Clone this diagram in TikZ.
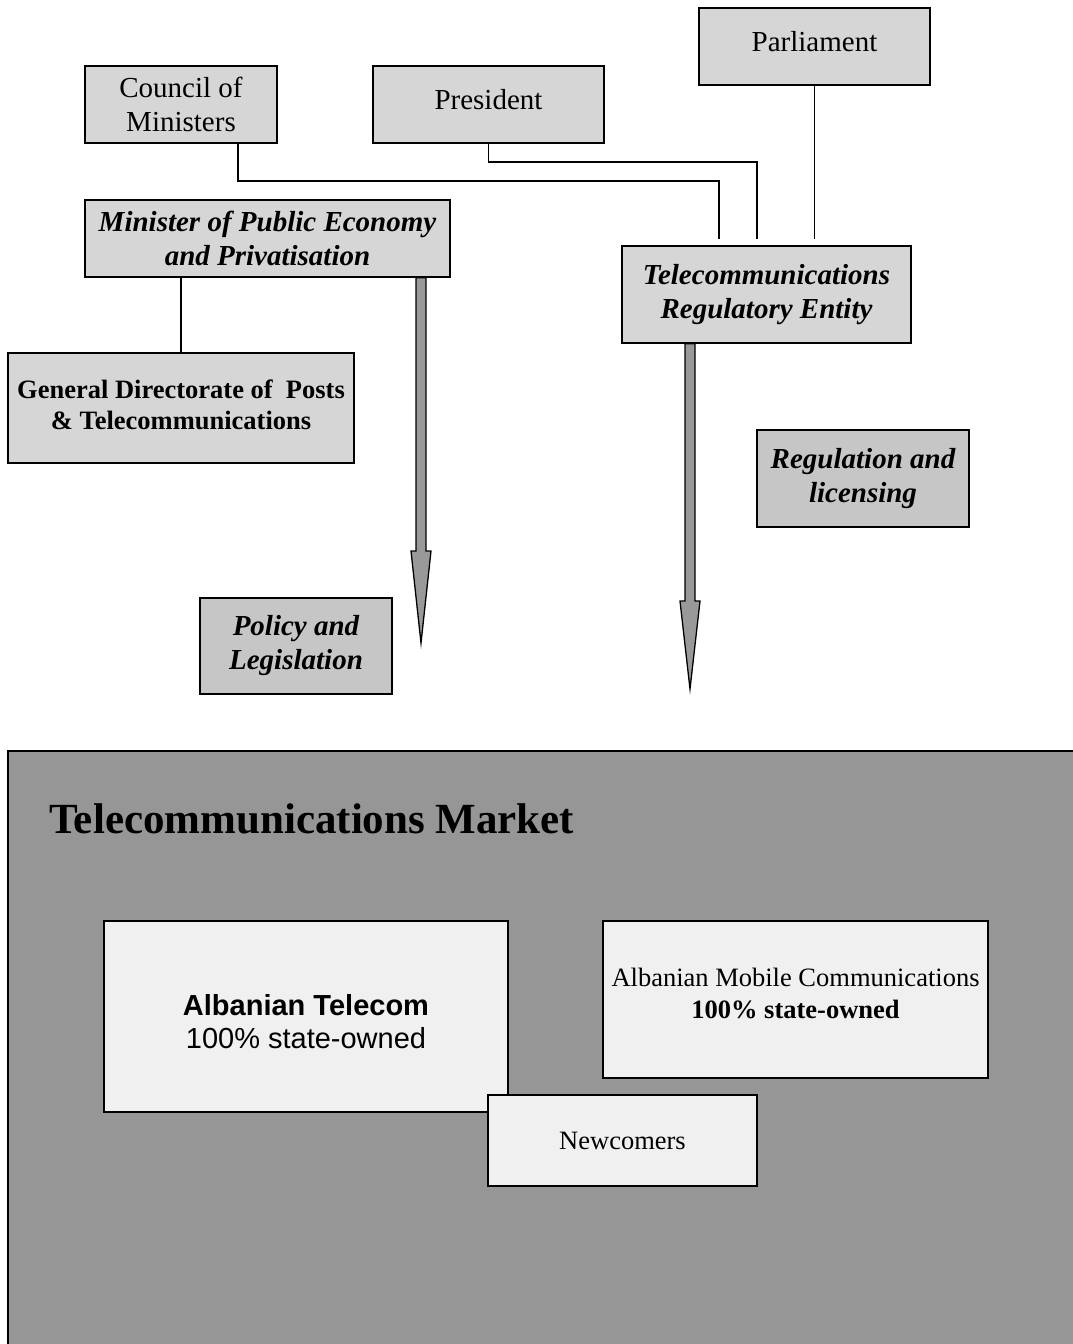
\documentclass[tikz,border=0pt]{standalone}
\usepackage{fontspec}
\setmainfont{Liberation Serif}
\newfontfamily\arialf{Liberation Sans}
\usetikzlibrary{calc}
\definecolor{boxgray}{HTML}{D6D6D6}
\definecolor{darkbox}{HTML}{C6C6C6}
\definecolor{market}{HTML}{969696}
\definecolor{lightbox}{HTML}{F0F0F0}
\definecolor{arrowgray}{HTML}{999999}
\tikzset{
  govbox/.style={draw, line width=1.4pt, fill=boxgray, inner sep=0pt, align=center,
     font=\fontsize{29}{34}\selectfont},
  darkgovbox/.style={govbox, fill=darkbox},
  mktbox/.style={draw, line width=1.4pt, fill=lightbox, inner sep=0pt, align=center},
  conn/.style={draw, line width=1.3pt},
  bigarrow/.style={draw, line width=1.3pt, fill=arrowgray, line join=miter},
}
\begin{document}
\begin{tikzpicture}[x=1pt,y=-1pt]
\useasboundingbox (0,0) rectangle (1072,1344);
\fill[white] (0,0) rectangle (1072,1344);

\node[govbox, minimum width=192pt, minimum height=77pt] (council) at (181,104.5) {Council of\\Ministers};
\node[govbox, minimum width=231pt, minimum height=77pt] (pres) at (488.5,104.5) {\raisebox{10pt}{President}};
\node[govbox, minimum width=231pt, minimum height=77pt] (parl) at (814.5,46.5) {\raisebox{10pt}{Parliament}};
\node[govbox, minimum width=365pt, minimum height=77pt] (min) at (267.5,238.5) {\bfseries\itshape Minister of Public Economy\\\bfseries\itshape and Privatisation};
\node[govbox, minimum width=289pt, minimum height=97pt] (tre) at (766.5,294.5) {\bfseries\itshape Telecommunications\\\bfseries\itshape Regulatory Entity};
\node[govbox, minimum width=346pt, minimum height=110pt, font=\fontsize{26.5}{31}\selectfont\bfseries] (gd) at (181,408) {\raisebox{6pt}{General Directorate of~ Posts}\\\raisebox{6pt}{\& Telecommunications}};
\node[darkgovbox, minimum width=212pt, minimum height=97pt] (reg) at (863,478.5) {\bfseries\itshape Regulation and\\\bfseries\itshape licensing};
\node[darkgovbox, minimum width=192pt, minimum height=96pt] (pol) at (296,646) {\bfseries\itshape Policy and\\\bfseries\itshape Legislation};

\draw[conn] ([xshift=57pt]council.south) |- (719,181) -- ([xshift=-47.5pt,yshift=6pt]tre.north);
\draw[conn] (pres.south) |- (757,162) -- ([xshift=-9.5pt,yshift=6pt]tre.north);
\draw[conn] (parl.south) -- ([xshift=48pt,yshift=6pt]tre.north);
\draw[conn] (gd.north) -- (gd.north |- min.south);

% big arrows
\coordinate (ta) at (421,643);
\draw[bigarrow] (min.south -| ta) ++(-5,0) -- ($(ta)+(-5,-92)$) -- ($(ta)+(-10,-92)$) -- (ta) -- ($(ta)+(10,-92)$) -- ($(ta)+(5,-92)$) -- ($(min.south -| ta)+(5,0)$) -- cycle;
\coordinate (tb) at (690,689);
\draw[bigarrow] (tre.south -| tb) ++(-5,0) -- ($(tb)+(-5,-88)$) -- ($(tb)+(-10,-88)$) -- (tb) -- ($(tb)+(10,-88)$) -- ($(tb)+(5,-88)$) -- ($(tre.south -| tb)+(5,0)$) -- cycle;

\draw[line width=1.4pt] (min.south west) -- (min.south east);
\draw[line width=1.4pt] (tre.south west) -- (tre.south east);

% market
\draw[line width=1.6pt, fill=market] (8,751) rectangle (1090,1360);
\node[anchor=base west, font=\fontsize{43}{48}\selectfont\bfseries, inner sep=0pt] (mtitle) at (49,833) {Telecommunications Market};

\node[mktbox, minimum width=404pt, minimum height=191pt, font=\arialf\fontsize{29}{33}\selectfont] (at) at (306,1016.5) {\raisebox{-5pt}[\height][0pt]{\bfseries Albanian Telecom}\\\raisebox{-5pt}[\height][0pt]{100\% state-owned}};
\node[mktbox, minimum width=385pt, minimum height=157pt, font=\fontsize{26.5}{32}\selectfont] (amc) at (795.5,999.5) {\raisebox{12pt}{Albanian Mobile Communications}\\\raisebox{12pt}{\bfseries 100\% state-owned}};
\node[mktbox, minimum width=269pt, minimum height=91pt, font=\fontsize{26.5}{31}\selectfont] (new) at (622.5,1140.5) {Newcomers};
\end{tikzpicture}
\end{document}
